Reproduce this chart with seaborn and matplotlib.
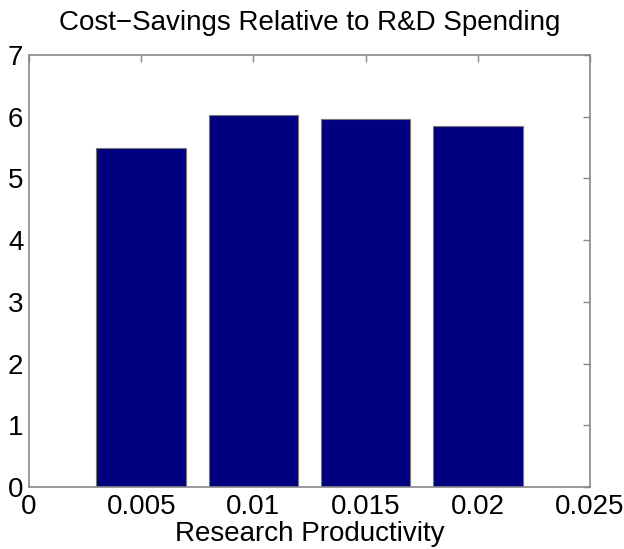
import matplotlib
matplotlib.use("Agg")
import matplotlib.pyplot as plt
import seaborn as sns
import pandas as pd

# data
productivity = [0.005, 0.01, 0.015, 0.02]
savings = [5.50, 6.03, 5.96, 5.85]
xticks = [0, 0.005, 0.01, 0.015, 0.02, 0.025]
xticklabels = ["0", "0.005", "0.01", "0.015", "0.02", "0.025"]
yticks = [0, 1, 2, 3, 4, 5, 6, 7]

df = pd.DataFrame({"productivity": productivity, "savings": savings})

sns.set_style("white")
plt.rcParams["font.family"] = ["Liberation Sans", "DejaVu Sans"]
plt.rcParams["text.color"] = "black"
plt.rcParams["xtick.color"] = "black"
plt.rcParams["ytick.color"] = "black"
plt.rcParams["axes.labelcolor"] = "black"

fig = plt.figure(figsize=(6.24, 5.49), dpi=100)
ax = fig.add_axes([0.0465, 0.1129, 0.899, 0.787])

sns.barplot(data=df, x="productivity", y="savings", native_scale=True,
            color="#000080", saturation=1, edgecolor="#777777", linewidth=0.8,
            width=0.8, ax=ax)

ax.set_xlim(0, 0.025)
ax.set_ylim(0, 7)
ax.set_xticks(xticks)
ax.set_xticklabels(xticklabels)
ax.set_yticks(yticks)

for s in ax.spines.values():
    s.set_visible(True)
    s.set_color("#888888")
    s.set_linewidth(1.2)

ax.tick_params(direction="in", length=5, width=1, color="#888888",
               labelcolor="black", top=True, right=True, labelsize=20)
ax.tick_params(axis="x", pad=5)
ax.tick_params(axis="y", pad=4)

ax.set_title("Cost\u2212Savings Relative to R&D Spending", fontsize=20, pad=18)
ax.set_xlabel("Research Productivity", fontsize=20, labelpad=1)
ax.set_ylabel("")

fig.savefig("out.png", dpi=100)
